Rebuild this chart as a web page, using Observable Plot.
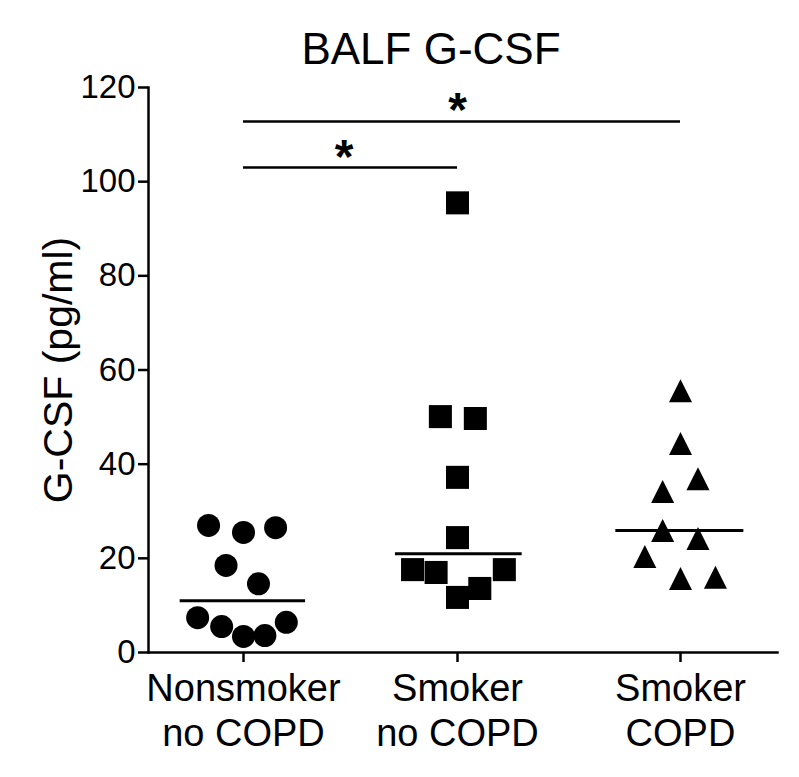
<!DOCTYPE html>
<html><head><meta charset="utf-8">
<script src="https://cdn.jsdelivr.net/npm/d3@7"></script>
<script src="https://cdn.jsdelivr.net/npm/@observablehq/plot@0.6"></script>
<style>body{margin:0;background:#fff}</style>
</head><body><div id="chart"></div>
<script>
// ---- data ----
const title = "BALF G-CSF";
const yLabel = "G-CSF (pg/ml)";
const categories = ["Nonsmoker\nno COPD", "Smoker\nno COPD", "Smoker\nCOPD"];
const groupIndex = [1, 2, 3];
const nonsmokerValues  = [27.0, 25.5, 26.5, 18.5, 14.6, 7.4, 5.5, 3.4, 3.6, 6.4];
const nonsmokerOffsets = [-0.16, 0, 0.15, -0.08, 0.07, -0.21, -0.10, 0, 0.10, 0.20];
const smokerValues  = [95.5, 50.1, 49.7, 37.2, 24.4, 17.6, 17.0, 17.6, 13.6, 11.7];
const smokerOffsets = [0, -0.08, 0.08, 0, 0, -0.21, -0.10, 0.21, 0.10, 0];
const copdValues  = [55.6, 44.4, 36.9, 34.2, 25.9, 24.2, 20.4, 15.7, 16.0];
const copdOffsets = [0, 0, 0.08, -0.08, -0.08, 0.08, -0.16, 0, 0.16];
const yTicks = [0, 20, 40, 60, 80, 100, 120];
const sigFrom = [1, 1];
const sigTo = [2, 3];
const sigY = [103, 112.8];
const sigLabelX = [1.47, 2.0];
const sigLabel = ["*", "*"];

// ---- build tables ----
const mk = (vals, offs, g) => vals.map((v, i) => ({g, x: g + offs[i], y: v}));
const g1 = mk(nonsmokerValues, nonsmokerOffsets, groupIndex[0]);
const g2 = mk(smokerValues, smokerOffsets, groupIndex[1]);
const g3 = mk(copdValues, copdOffsets, groupIndex[2]);
const medians = [g1, g2, g3].map((arr, i) => ({g: groupIndex[i], m: d3.median(arr, d => d.y)}));
const sig = sigFrom.map((f, i) => ({from: f, to: sigTo[i], y: sigY[i], lx: sigLabelX[i], label: sigLabel[i]}));

const triangle = {
  draw(context, size) {
    const a = Math.sqrt(size);
    context.moveTo(0, -a / 2);
    context.lineTo(a / 2, a / 2);
    context.lineTo(-a / 2, a / 2);
    context.closePath();
  }
};

const font = "'Liberation Sans', Arial, Helvetica, sans-serif";
const W = 799, H = 777, mL = 148, mR = 22, mT = 87, mB = 125;

const chart = Plot.plot({
  width: W, height: H,
  marginLeft: mL, marginRight: mR, marginTop: mT, marginBottom: mB,
  style: {fontFamily: font, background: "white", color: "black"},
  x: {type: "linear", domain: [0.565, 1, 2, 3, 3.444], range: [148, 243, 457, 680, 777]},
  y: {domain: [0, 120]},
  marks: [
    Plot.frame({anchor: "left", strokeWidth: 2.5}),
    Plot.frame({anchor: "bottom", strokeWidth: 2.5}),
    Plot.axisY({ticks: yTicks, tickSize: 10, tickPadding: 3, strokeWidth: 2.5, fontSize: 33, label: null}),
    Plot.axisX({ticks: groupIndex, tickSize: 10, tickPadding: 7, strokeWidth: 2.5, fontSize: 38, lineHeight: 1.18,
      tickFormat: d => categories[groupIndex.indexOf(d)], label: null}),
    Plot.text([title], {frameAnchor: "top", lineAnchor: "middle", textAnchor: "middle", dx: -32, dy: -38, fontSize: 44, text: d => d}),
    Plot.text([yLabel], {frameAnchor: "left", textAnchor: "middle", lineAnchor: "middle", rotate: -90, dx: -90, fontSize: 41, text: d => d}),
    Plot.ruleY(medians, {y: "m", x1: d => d.g - 0.29, x2: d => d.g + 0.29, strokeWidth: 3}),
    Plot.dot(g1, {x: "x", y: "y", r: 11.5, symbol: "circle", fill: "black"}),
    Plot.dot(g2, {x: "x", y: "y", r: 13, symbol: "square", fill: "black"}),
    Plot.dot(g3, {x: "x", y: "y", r: 13, symbol: triangle, fill: "black"}),
    Plot.ruleY(sig, {y: "y", x1: "from", x2: "to", strokeWidth: 2.5}),
    Plot.text(sig, {x: "lx", y: "y", text: "label", lineAnchor: "bottom", dy: 5, fontSize: 48, fontWeight: "bold"})
  ]
});
document.getElementById("chart").appendChild(chart);
</script>
</body></html>
